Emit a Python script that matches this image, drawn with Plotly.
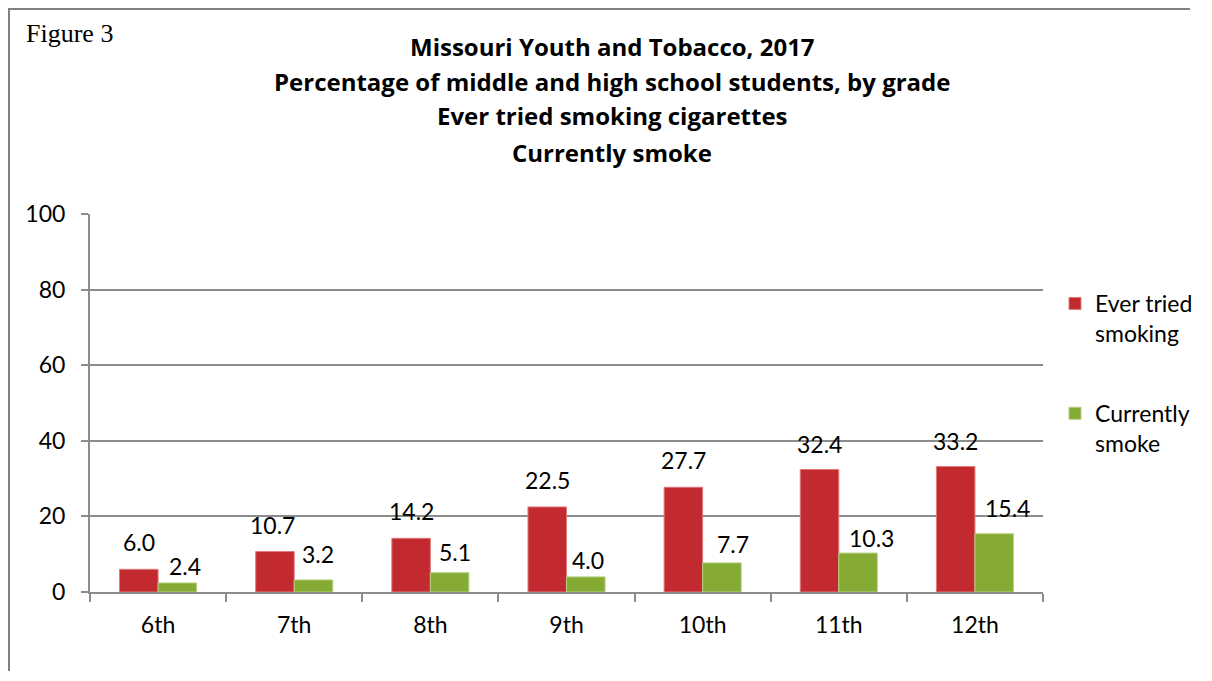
import plotly.graph_objects as go

grades = ["6th", "7th", "8th", "9th", "10th", "11th", "12th"]
ever_tried = [6.0, 10.7, 14.2, 22.5, 27.7, 32.4, 33.2]
currently = [2.4, 3.2, 5.1, 4.0, 7.7, 10.3, 15.4]
series_names = ["Ever tried<br>smoking", "Currently<br>smoke"]
title_lines = [
    "Missouri Youth and Tobacco, 2017",
    "Percentage of middle and high school students, by grade",
    "Ever tried smoking cigarettes",
    "Currently smoke",
]

# label placement (pixel nudges, as in the original hand-placed labels)
red_dy = [27, 27, 27, 26.5, 27, 26, 26]
red_dx = [0, -2, 0, 0, 0, 0, 0]
green_dy = [17, 26, 21, 16.5, 19, 15, 26]
green_dx = [8, 5, 5, 2, 11, 13, 13]

OFF = 8  # page body margin
W, H = 1212 - OFF, 681 - 2 * OFF
L, R, T, B = 90 - OFF, 169, 214 - OFF, 89 - OFF
PW, PH = W - L - R, H - T - B
BARGAP = 0.434
RED = "#C32A2F"
GREEN = "#86AB35"
FONT = "Lato"


def px_x(px):
    return (px - OFF - L) / PW


def px_y(py):
    return (H - B - (py - OFF)) / PH


fig = go.Figure()
fig.add_trace(go.Bar(x=grades, y=ever_tried, name=series_names[0], legendgroup="a",
                     marker=dict(color=RED, line=dict(color="#E07A7D", width=1))))
fig.add_trace(go.Bar(x=grades, y=currently, name=series_names[1], legendgroup="b",
                     marker=dict(color=GREEN, line=dict(color="#B5D07E", width=1))))

half = PW / len(grades) * (1 - BARGAP) / 4
annotations = []
for i, g in enumerate(grades):
    annotations.append(dict(x=g, y=ever_tried[i], xref="x", yref="y", text=f"{ever_tried[i]:.1f}",
                            showarrow=False, xanchor="center", yanchor="middle",
                            xshift=-half + red_dx[i], yshift=red_dy[i],
                            font=dict(family=FONT, size=23, color="#000")))
    annotations.append(dict(x=g, y=currently[i], xref="x", yref="y", text=f"{currently[i]:.1f}",
                            showarrow=False, xanchor="center", yanchor="middle",
                            xshift=half + green_dx[i], yshift=green_dy[i],
                            font=dict(family=FONT, size=23, color="#000")))

title_y = [46, 81, 116, 152]
for line, ty in zip(title_lines, title_y):
    annotations.append(dict(x=px_x(612), y=px_y(ty), xref="paper", yref="paper", text=f"<b>{line}</b>",
                            showarrow=False, xanchor="center", yanchor="middle",
                            font=dict(family="Open Sans", size=24, color="#000")))

annotations.append(dict(x=px_x(24), y=px_y(17), xref="paper", yref="paper", text="Figure 3",
                        showarrow=False, xanchor="left", yanchor="top",
                        font=dict(family="Liberation Serif", size=26, color="#000")))

shapes = [
    dict(type="line", xref="paper", yref="paper", x0=px_x(9), x1=px_x(9), y0=px_y(8), y1=px_y(OFF + H - 2),
         line=dict(color="#808080", width=2)),
    dict(type="line", xref="paper", yref="paper", x0=px_x(8), x1=px_x(1190), y0=px_y(9), y1=px_y(9),
         line=dict(color="#808080", width=2)),
]

fig.update_layout(
    width=W, height=H,
    margin=dict(l=L, r=R, t=T, b=B, pad=0),
    paper_bgcolor="white", plot_bgcolor="white",
    barmode="group", bargap=BARGAP, bargroupgap=0,
    font=dict(family=FONT, size=23, color="#000"),
    annotations=annotations, shapes=shapes,
    legend=dict(x=px_x(1055), y=px_y(282), xanchor="left", yanchor="top",
                font=dict(family=FONT, size=23, color="#000"),
                valign="top", tracegroupgap=47, bgcolor="rgba(0,0,0,0)"),
    xaxis=dict(showgrid=False, showline=True, linecolor="#8c8c8c", linewidth=2,
               ticks="outside", tickson="boundaries", ticklen=8, tickcolor="#8c8c8c", tickwidth=2,
               tickfont=dict(family=FONT, size=23), ticklabelstandoff=11),
    yaxis=dict(range=[0, 100], dtick=20, showgrid=True, gridcolor="#8c8c8c", gridwidth=2,
               showline=True, linecolor="#8c8c8c", linewidth=2, zeroline=False,
               ticks="outside", ticklen=7, tickcolor="#8c8c8c", tickwidth=2,
               tickfont=dict(family=FONT, size=23), ticklabelstandoff=11),
)

fig.write_html("out.html")
